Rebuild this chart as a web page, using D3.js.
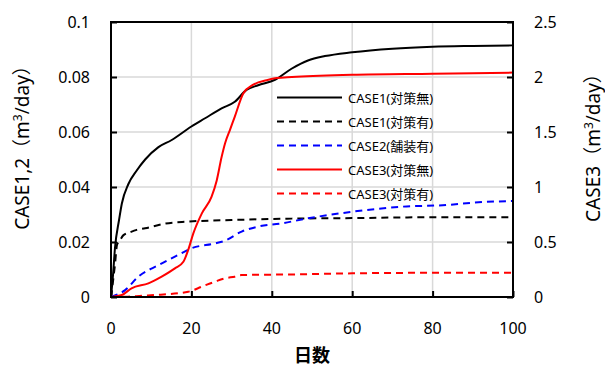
<!DOCTYPE html>
<html>
<head>
<meta charset="utf-8">
<script src="https://cdn.jsdelivr.net/npm/d3@7"></script>
<style>
body { margin: 0; background: #fff; }
text { font-family: "Noto Sans", "Noto Sans CJK JP", sans-serif; }
</style>
</head>
<body>
<svg id="chart" width="605" height="367"></svg>
<script>
// series: [day, value]
var case1None = [[0,0],[0.5,0.008],[1,0.018],[2,0.028],[2.7,0.034],[4.3,0.041],[6.4,0.046],[8.5,0.050],[11.8,0.0545],[15,0.057],[20,0.062],[23.4,0.065],[27.5,0.0686],[30.8,0.071],[33.7,0.0753],[36.6,0.077],[40.8,0.079],[44.9,0.083],[49,0.086],[53.2,0.0876],[60,0.089],[70,0.0903],[80,0.091],[90,0.0913],[100,0.0915]];
var case1Yes = [[0,0],[1,0.012],[1.5,0.019],[2.2,0.0205],[3.1,0.0225],[5,0.0237],[6.4,0.0244],[8.5,0.025],[13.5,0.0267],[19,0.0274],[30,0.028],[45,0.0285],[60,0.0287],[80,0.029],[100,0.029]];
var case2Yes = [[0,0],[3.5,0.0025],[6.8,0.0074],[11.8,0.0116],[16.7,0.0153],[20,0.0177],[25.9,0.0195],[28.4,0.0205],[32.5,0.0238],[36.6,0.0256],[42.5,0.0268],[49,0.0286],[60,0.031],[72,0.0328],[84,0.0335],[90,0.0343],[100,0.0349]];
var case3None = [[0,0],[2.7,0.018],[5.1,0.079],[9.3,0.124],[12.6,0.185],[15.9,0.26],[18,0.32],[19.2,0.427],[20.5,0.58],[22.6,0.76],[25,0.91],[26.3,1.06],[27.5,1.27],[28.4,1.40],[29.6,1.52],[30.8,1.64],[32.9,1.85],[35.4,1.93],[38.7,1.97],[41.2,1.99],[45,2.0],[60,2.02],[80,2.03],[100,2.04]];
var case3Yes = [[0,0],[3.5,0.002],[8,0.012],[11,0.018],[19.2,0.048],[22.6,0.094],[25.9,0.14],[28.4,0.17],[30.8,0.185],[32.5,0.2],[45,0.205],[60,0.215],[80,0.22],[100,0.22]];

var xTicks = [0, 20, 40, 60, 80, 100];
var yLeftTicks = [0, 0.02, 0.04, 0.06, 0.08, 0.1];
var yRightTicks = [0, 0.5, 1, 1.5, 2, 2.5];
var legendNames = ["CASE1(対策無)", "CASE1(対策有)", "CASE2(舗装有)", "CASE3(対策無)", "CASE3(対策有)"];

var plotL = 111, plotR = 513, plotT = 22, plotB = 297;
var svg = d3.select('#chart');

var x = d3.scaleLinear().domain([0, 100]).range([plotL, plotR]);
var yL = d3.scaleLinear().domain([0, 0.1]).range([plotB, plotT]);
var yR = d3.scaleLinear().domain([0, 2.5]).range([plotB, plotT]);

// grid
var grid = svg.append('g');
grid.selectAll('.gx').data(xTicks.slice(1, -1)).enter().append('line')
	.attr('x1', function (d) { return x(d); }).attr('x2', function (d) { return x(d); })
	.attr('y1', plotT).attr('y2', plotB)
	.attr('stroke', '#d9d9d9').attr('stroke-width', 1.5);
grid.selectAll('.gy').data(yLeftTicks.slice(1, -1)).enter().append('line')
	.attr('y1', function (d) { return yL(d); }).attr('y2', function (d) { return yL(d); })
	.attr('x1', plotL).attr('x2', plotR)
	.attr('stroke', '#d9d9d9').attr('stroke-width', 1.5);

// axes (ticks point inward)
var axL = svg.append('g').attr('transform', 'translate(' + plotL + ',0)')
	.call(d3.axisRight(yL).tickValues(yLeftTicks).tickSize(6).tickFormat(''));
var axR = svg.append('g').attr('transform', 'translate(' + plotR + ',0)')
	.call(d3.axisLeft(yR).tickValues(yRightTicks).tickSize(6).tickFormat(''));
var axB = svg.append('g').attr('transform', 'translate(0,' + plotB + ')')
	.call(d3.axisTop(x).tickValues(xTicks).tickSize(6).tickFormat(''));
[axL, axR, axB].forEach(function (a) {
	a.selectAll('.domain').remove();
	a.selectAll('line').attr('stroke', '#000').attr('stroke-width', 2);
});

// tick labels
svg.selectAll('.lx').data(xTicks).enter().append('text')
	.attr('x', function (d) { return x(d); }).attr('y', 334)
	.attr('text-anchor', 'middle').style('font-size', '16px')
	.text(function (d) { return d; });
svg.selectAll('.ll').data(yLeftTicks).enter().append('text')
	.attr('x', 90).attr('y', function (d) { return yL(d) + 6; })
	.attr('text-anchor', 'end').style('font-size', '16px')
	.text(function (d) { return d; });
svg.selectAll('.lr').data(yRightTicks).enter().append('text')
	.attr('x', 534).attr('y', function (d) { return yR(d) + 6; })
	.attr('text-anchor', 'start').style('font-size', '16px')
	.text(function (d) { return d; });

// series
var series = [
	{ data: case1None, y: yL, color: '#000', dash: null },
	{ data: case1Yes, y: yL, color: '#000', dash: '7,5' },
	{ data: case2Yes, y: yL, color: '#0000ff', dash: '7,5' },
	{ data: case3None, y: yR, color: '#ff0000', dash: null },
	{ data: case3Yes, y: yR, color: '#ff0000', dash: '7,5' }
];
series.forEach(function (s) {
	var line = d3.line()
		.x(function (d) { return x(d[0]); })
		.y(function (d) { return s.y(d[1]); })
		.curve(d3.curveMonotoneX);
	svg.append('path').datum(s.data)
		.attr('d', line)
		.attr('fill', 'none')
		.attr('stroke', s.color)
		.attr('stroke-width', 2)
		.attr('stroke-dasharray', s.dash);
});

// frame
svg.append('rect').attr('x', plotL).attr('y', plotT)
	.attr('width', plotR - plotL).attr('height', plotB - plotT)
	.attr('fill', 'none').attr('stroke', '#000').attr('stroke-width', 2);

// legend
var leg = svg.append('g');
series.forEach(function (s, i) {
	var ly = 97.5 + i * 24;
	leg.append('line').attr('x1', 277).attr('x2', 342).attr('y1', ly).attr('y2', ly)
		.attr('stroke', s.color).attr('stroke-width', 2).attr('stroke-dasharray', s.dash);
	leg.append('text').attr('x', 348).attr('y', ly + 5)
		.style('font-size', '13px').text(legendNames[i]);
});

// axis titles
svg.append('text').attr('x', 312).attr('y', 362)
	.attr('text-anchor', 'middle').style('font-size', '18px').style('font-weight', 'bold')
	.text('日数');
svg.append('text').attr('transform', 'translate(29,143) rotate(-90)')
	.attr('text-anchor', 'middle').style('font-size', '19px')
	.html('CASE1,2（m<tspan dy="-7" font-size="12px">3</tspan><tspan dy="7">/day）</tspan>');
svg.append('text').attr('transform', 'translate(600,143) rotate(-90)')
	.attr('text-anchor', 'middle').style('font-size', '19px')
	.html('CASE3（m<tspan dy="-7" font-size="12px">3</tspan><tspan dy="7">/day）</tspan>');
</script>
</body>
</html>
